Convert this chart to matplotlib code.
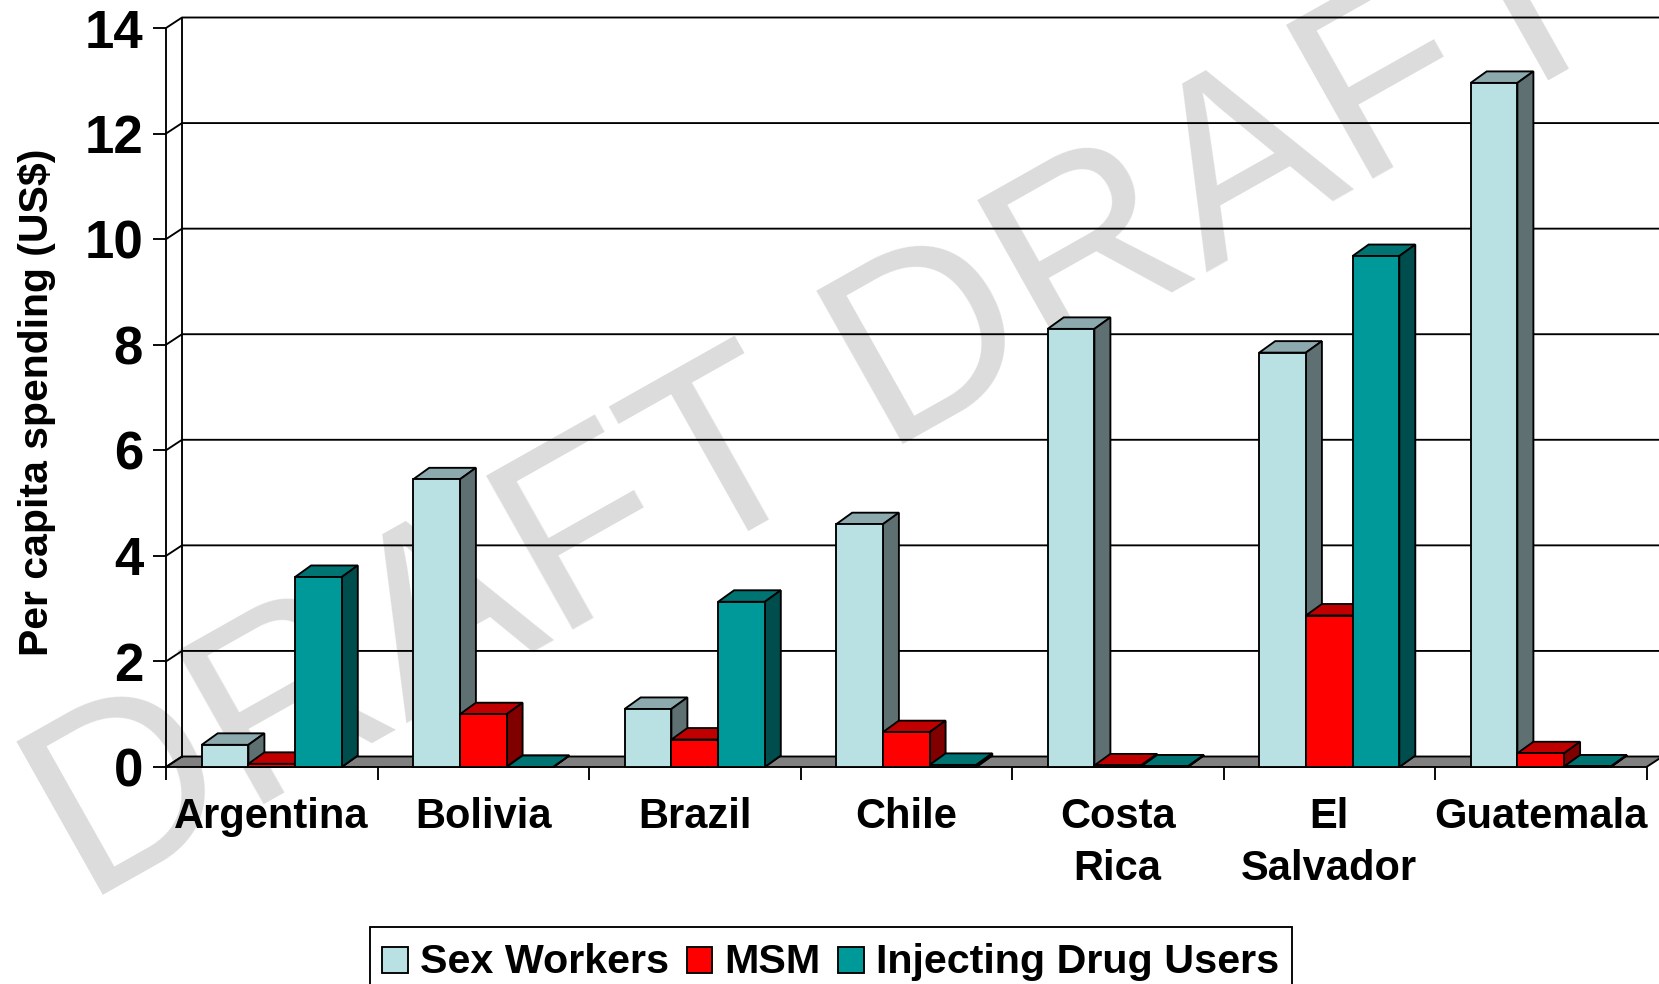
import numpy as np
import matplotlib
matplotlib.use('Agg')
import matplotlib.pyplot as plt
from matplotlib.patches import Patch, Polygon

countries = ['Argentina', 'Bolivia', 'Brazil', 'Chile', 'Costa\nRica', 'El\nSalvador', 'Guatemala']
sex_workers = [0.42, 5.45, 1.10, 4.60, 8.30, 7.85, 12.96]
msm = [0.06, 1.00, 0.52, 0.66, 0.03, 2.87, 0.26]
idu = [3.60, 0.00, 3.13, 0.04, 0.01, 9.68, 0.01]
series_names = ['Sex Workers', 'MSM', 'Injecting Drug Users']
yticks = [0, 2, 4, 6, 8, 10, 12, 14]

# front, top, side shades per series
sex_colors = ['#B9E0E3', '#8CA9AD', '#5F7073']
msm_colors = ['#FF0000', '#C00000', '#800000']
idu_colors = ['#009999', '#007373', '#004D4D']

W, H = 1659, 984
plt.rcParams['font.family'] = ['Liberation Sans', 'DejaVu Sans']
plt.rcParams['font.weight'] = 'bold'

fig = plt.figure(figsize=(W / 100, H / 100), dpi=100)
ax = fig.add_axes([166 / W, 1 - 767 / H, 1480.5 / W, 739 / H])
ax.patch.set_alpha(0)
ax.set_xlim(0, 7)
ax.set_ylim(0, 14)
for s in ax.spines.values():
    s.set_visible(False)

# depth of the fake 3d box, in data units
wall_dx = 16 / 211.5
wall_dy = 10.5 / 52.8
bar_dy = 11.5 / 52.8
bar_w = 46.7 / 211.5
lw = 1.35

fig.text(85 / W, 1 - 905 / H, 'DRAFT DRAFT', fontsize=184, fontweight='normal', color='#DCDCDC',
         rotation=29.4, rotation_mode='anchor', ha='left', va='baseline', zorder=-1)


def poly(points, color, z):
    ax.add_patch(Polygon(points, closed=True, facecolor=color, edgecolor='black',
                         linewidth=lw, joinstyle='miter', clip_on=False, zorder=z))


# floor and walls
poly([(0, 0), (wall_dx, wall_dy), (7 + wall_dx, wall_dy), (7, 0)], '#808080', 1)
ax.plot([wall_dx, wall_dx], [wall_dy, 14 + wall_dy], color='black', lw=lw, clip_on=False, zorder=2)
ax.plot([0, 0], [0, 14], color='black', lw=lw, clip_on=False, zorder=2)
for t in yticks[1:]:
    ax.plot([0, wall_dx, 7 + wall_dx], [t, t + wall_dy, t + wall_dy], color='black', lw=lw,
            clip_on=False, zorder=2)
ax.plot([0, wall_dx], [0, wall_dy], color='black', lw=lw, clip_on=False, zorder=2)


def bar3d(x, h, colors, z):
    poly([(x, 0), (x + wall_dx, bar_dy), (x + wall_dx + bar_w, bar_dy), (x + bar_w, 0)], colors[1], z)
    poly([(x, h), (x + wall_dx, h + bar_dy), (x + bar_w + wall_dx, h + bar_dy), (x + bar_w, h)], colors[1], z)
    poly([(x + bar_w, 0), (x + bar_w + wall_dx, bar_dy), (x + bar_w + wall_dx, h + bar_dy), (x + bar_w, h)], colors[2], z)
    poly([(x, 0), (x + bar_w, 0), (x + bar_w, h), (x, h)], colors[0], z)


z = 3
start = (1 - 3 * bar_w) / 2
for i in range(len(countries)):
    for j, (vals, colors) in enumerate(zip([sex_workers, msm, idu], [sex_colors, msm_colors, idu_colors])):
        bar3d(i + start + j * bar_w, vals[i], colors, z)
        z += 1

ax.set_yticks(yticks)
ax.set_yticklabels([str(t) for t in yticks], fontsize=38, fontweight='bold')
ax.tick_params(axis='y', length=9.5, width=lw, pad=7)
ax.set_xticks(np.arange(8))
ax.set_xticklabels([])
ax.tick_params(axis='x', which='major', length=9.5, width=lw)
ax.set_xticks(np.arange(7) + 0.5, countries, minor=True, fontsize=30, fontweight='bold')
ax.tick_params(axis='x', which='minor', length=0, pad=21.5)
for lab in ax.get_xticklabels(minor=True):
    lab.set_linespacing(1.4)

fig.text(37 / W, 1 - 402 / H, 'Per capita spending (US$)', fontsize=29.5, fontweight='bold',
         rotation=90, ha='center', va='center')

handles = [Patch(facecolor=c[0], edgecolor='black', linewidth=lw) for c in [sex_colors, msm_colors, idu_colors]]
leg = fig.legend(handles, series_names, loc='upper left', bbox_to_anchor=(370 / W, 1 - 927 / H),
                 ncol=3, fontsize=29.7, frameon=True, fancybox=False, edgecolor='black', framealpha=1,
                 borderaxespad=0, borderpad=0.3, handlelength=0.62, handleheight=0.6,
                 handletextpad=0.3, columnspacing=0.42)
leg.get_frame().set_linewidth(lw)
leg.set_zorder(10)
# nudge the entries down inside the frame
for txt in leg.get_texts():
    txt.set_position((0, -4))
for p in leg.get_patches():
    p.set_y(p.get_y() - 4)

fig.savefig('out.png', dpi=100)
